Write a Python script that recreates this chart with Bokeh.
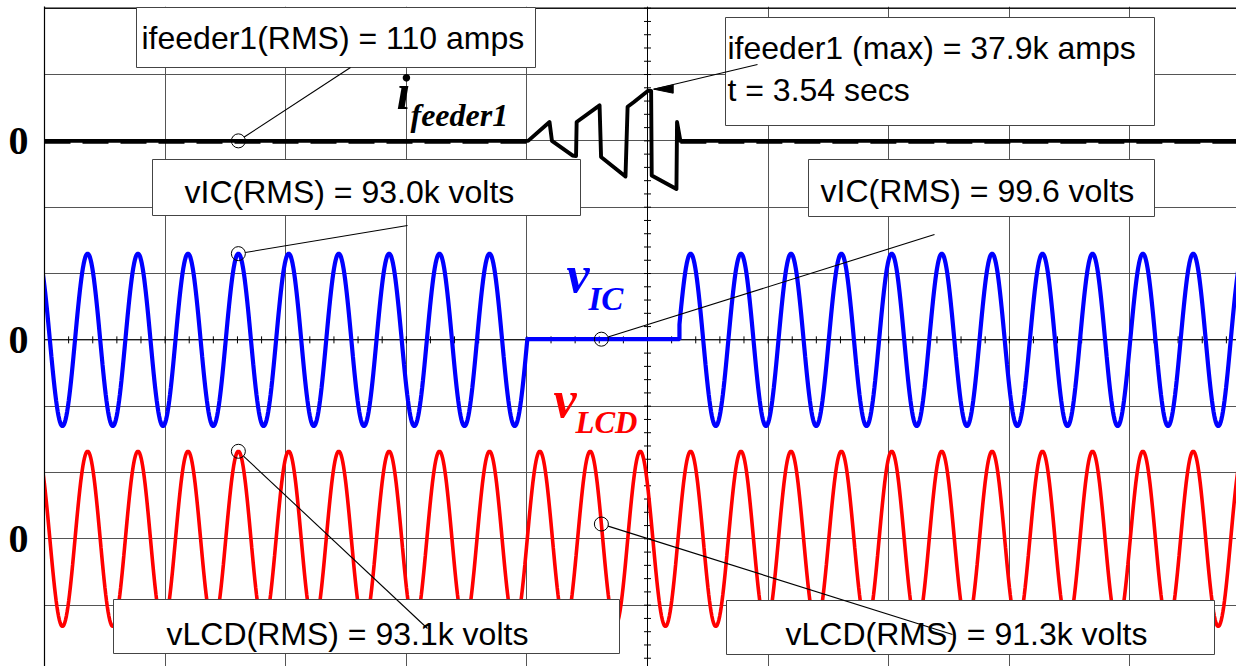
import numpy as np
from bokeh.plotting import figure
from bokeh.models import Range1d, FixedTicker, Span
from bokeh.core.properties import value
from bokeh.embed import file_html
from bokeh.resources import INLINE

# ----------------------------- data -----------------
t_left = 3.34          # s at the left edge of the screen
time_div = 0.04        # s per horizontal division

# times of the positive peaks of the 60 Hz bus voltages (vIC and vLCD in phase)
v_peak_t = [3.3376, 3.3543, 3.3710, 3.3876, 3.4043, 3.4210, 3.4376, 3.4543,
            3.4710, 3.4876, 3.5043, 3.5210, 3.5376, 3.5543, 3.5710, 3.5876,
            3.6043, 3.6210, 3.6376, 3.6543, 3.6710, 3.6876, 3.7043, 3.7210,
            3.7376]
vic_peak_kv = 130.0
vlcd_peak_kv = 132.0
vic_blank_t = [3.5002, 3.5506]   # vIC collapsed to ~0 V in this interval
vic_blank_kv = 1.0

# feeder current (kA) through the fault
ifeeder_t = [3.3400, 3.5004, 3.5075, 3.5083, 3.5151, 3.5163, 3.5165, 3.5241,
             3.5246, 3.5327, 3.5334, 3.5354, 3.5403, 3.5412, 3.5414, 3.5496,
             3.5498, 3.5509, 3.7360]
ifeeder_ka = [0.0, 0.0, 14.2, 0.0, -11.0, -11.4, 14.2, 26.8,
              -12.1, -26.8, 25.7, 29.1, 37.9, 37.6, -26.1, -36.3,
              14.2, 0.0, 0.0]

# readouts
ifeeder_rms_a = "110"
ifeeder_max_ka = "37.9"
ifeeder_max_t = "3.54"
vic_rms_before = "93.0k"
vic_rms_fault = "99.6"
vlcd_rms_before = "93.1k"
vlcd_rms_after = "91.3k"
marker_t_before = 3.4043
marker_t_fault = 3.5247

# ----------------------------- screen layout --------------------------------
IF_OFF, IF_SCALE = 8.0, 50.0      # divisions, kA per division
VIC_OFF, V_SCALE = 5.0, 100.0     # divisions, kV per division
VLCD_OFF = 2.0

W, H = 1236, 666
PX0, PY0 = 44.0, 671.0            # pixel of (t_left, division 0)
PXD, PYD = 120.6, 66.33           # pixels per division


def tx(px):
    return t_left + (px - PX0) / PXD * time_div


def dy(py):
    return (PY0 - py) / PYD


def px_of(t):
    return PX0 + (t - t_left) / time_div * PXD


def py_of(d):
    return PY0 - d * PYD


def wave(peaks, amp, n=64):
    ts, vs = [], []
    for p0, p1 in zip(peaks[:-1], peaks[1:]):
        tt = np.linspace(p0, p1, n, endpoint=False)
        ts.append(tt)
        vs.append(amp * np.cos(2 * np.pi * (tt - p0) / (p1 - p0)))
    ts.append(np.array([peaks[-1]]))
    vs.append(np.array([amp]))
    return np.concatenate(ts), np.concatenate(vs)


lcd_t, lcd_v = wave(v_peak_t, vlcd_peak_kv)
wt, wv = wave(v_peak_t, vic_peak_kv)
b0, b1 = vic_blank_t
pre, post = wt < b0, wt > b1
vic_t = np.concatenate([wt[pre], [b0, b0, b1, b1], wt[post]])
vic_v = np.concatenate([wv[pre],
                        [np.interp(b0, wt, wv), vic_blank_kv, vic_blank_kv,
                         np.interp(b1, wt, wv)],
                        wv[post]])

TOP = 6
p = figure(width=W, height=H,
           x_range=Range1d(tx(PX0), tx(W)), y_range=Range1d(dy(H), dy(TOP)),
           output_backend="svg", toolbar_location=None, x_axis_location=None,
           min_border_left=int(PX0), min_border_right=0, min_border_top=TOP,
           min_border_bottom=0, outline_line_color=None,
           background_fill_color="white", border_fill_color="white")

# graticule
p.xgrid.ticker = FixedTicker(ticks=[t_left + k * time_div for k in range(11)])
p.ygrid.ticker = FixedTicker(ticks=list(range(11)))
for g in (p.xgrid, p.ygrid):
    g.grid_line_color = "#555555"
    g.grid_line_width = 1
    g.grid_line_alpha = 1.0

t_mid = t_left + 5 * time_div
p.add_layout(Span(location=t_mid, dimension="height", line_color="black",
                  line_width=1, level="underlay"))
p.add_layout(Span(location=5, dimension="width", line_color="black",
                  line_width=1, level="underlay"))
p.add_layout(Span(location=10, dimension="width", line_color="black",
                  line_width=1.2, level="underlay"))
# minor ticks on centre axes
ty = np.arange(0, 10.01, 0.2)
p.segment(x0=[tx(px_of(t_mid) - 3.5)] * len(ty), x1=[tx(px_of(t_mid) + 3.5)] * len(ty),
          y0=ty, y1=ty, line_color="black", line_width=1)
txs = [t_left + k * time_div / 5 for k in range(51)]
p.segment(x0=txs, x1=txs, y0=[5 - 3.5 / PYD] * len(txs), y1=[5 + 3.5 / PYD] * len(txs),
          line_color="black", line_width=1)

# y axis: the "0" marks of the three traces
p.yaxis.ticker = FixedTicker(ticks=[VLCD_OFF, VIC_OFF, IF_OFF])
p.yaxis.major_label_overrides = {2: "0", 5: "0", 8: "0"}
p.yaxis.major_label_text_font = "Liberation Serif"
p.yaxis.major_label_text_font_style = "bold"
p.yaxis.major_label_text_font_size = "40px"
p.yaxis.major_label_text_color = "black"
p.yaxis.major_tick_line_color = None
p.yaxis.minor_tick_line_color = None
p.yaxis.major_label_standoff = 10
p.yaxis.axis_line_color = "black"
p.yaxis.axis_line_width = 1.2

# traces
p.line(lcd_t, VLCD_OFF + lcd_v / V_SCALE, line_color="#ff0000", line_width=3.6)
p.line(vic_t, VIC_OFF + vic_v / V_SCALE, line_color="#0000ff", line_width=4.2)
it = np.array(ifeeder_t)
iv = IF_OFF + np.array(ifeeder_ka) / IF_SCALE
p.line(it, iv, line_color="black", line_width=3.9, line_join="round")
nz = np.nonzero(np.array(ifeeder_ka))[0]
for seg in (slice(0, nz[0]), slice(nz[-1] + 1, None)):
    p.line(it[seg], iv[seg] - 0.6 / PYD, line_color="black", line_width=4.4,
           line_dash="26 12")

# trace names (y = vertical middle of the text)
serif = value("Liberation Serif")
names = [("i", 396, 91, "50px", "black"), ("feeder1", 410, 114, "32px", "black"),
         ("v", 566, 274, "52px", "#0000ff"), ("IC", 588, 298, "33px", "#0000ff"),
         ("v", 553, 399, "52px", "#ff0000"), ("LCD", 575, 422, "31px", "#ff0000")]
for s, x, y, fs, c in names:
    p.text(x=[tx(x)], y=[dy(y)], text=[s], text_font=serif, text_font_style="bold italic",
           text_font_size=fs, text_color=c, text_align="left", text_baseline="middle")

# readout boxes: (left, top, right, bottom) in pixels
boxes = [(136, 7, 535, 67), (725, 17, 1154, 125), (152, 159, 580, 215),
         (808, 159, 1154, 216), (113, 599, 619, 653), (726, 600, 1214, 654)]
p.quad(left=[tx(b[0]) for b in boxes], right=[tx(b[2]) for b in boxes],
       top=[dy(b[1]) for b in boxes], bottom=[dy(b[3]) for b in boxes],
       fill_color="white", line_color="#444444", line_width=1)

texts = [f"ifeeder1(RMS) = {ifeeder_rms_a} amps",
         f"ifeeder1 (max) = {ifeeder_max_ka}k amps",
         f"t = {ifeeder_max_t} secs",
         f"vIC(RMS) = {vic_rms_before} volts",
         f"vIC(RMS) = {vic_rms_fault} volts",
         f"vLCD(RMS) = {vlcd_rms_before} volts",
         f"vLCD(RMS) = {vlcd_rms_after} volts"]
tpos = [(141, 37), (727, 47), (727, 89), (184, 191), (820, 190), (166, 633), (785, 633)]
p.text(x=[tx(a) for a, b in tpos], y=[dy(b) for a, b in tpos], text=texts,
       text_font=value("Liberation Sans"), text_font_size="32px", text_color="black",
       text_align="left", text_baseline="middle")

# markers and leader lines
def at(t, tt, vv, off, sc):
    return off + np.interp(t, tt, vv) / sc

markers = [
    (marker_t_before, at(marker_t_before, it, np.array(ifeeder_ka), IF_OFF, IF_SCALE), (350, 67)),
    (marker_t_before, at(marker_t_before, vic_t, vic_v, VIC_OFF, V_SCALE), (407, 225)),
    (marker_t_fault, at(marker_t_fault, vic_t, vic_v, VIC_OFF, V_SCALE), (934, 234)),
    (marker_t_before, at(marker_t_before, lcd_t, lcd_v, VLCD_OFF, V_SCALE), (427, 628)),
    (marker_t_fault, at(marker_t_fault, lcd_t, lcd_v, VLCD_OFF, V_SCALE), (952, 634)),
]
R = 7.0
x0s, y0s, x1s, y1s = [], [], [], []
for t, d, (ex, ey) in markers:
    cx, cy = px_of(t), py_of(d)
    L = np.hypot(ex - cx, ey - cy)
    sx, sy = cx + R * (ex - cx) / L, cy + R * (ey - cy) / L
    x0s.append(tx(sx)); y0s.append(dy(sy)); x1s.append(tx(ex)); y1s.append(dy(ey))

# leader to the current maximum (with arrow head)
k = int(np.argmax(ifeeder_ka))
mx, my = px_of(ifeeder_t[k]), py_of(IF_OFF + ifeeder_ka[k] / IF_SCALE)
x0s.append(tx(mx + 5)); y0s.append(dy(my - 1.4)); x1s.append(tx(757)); y1s.append(dy(64))
p.segment(x0=x0s, y0=y0s, x1=x1s, y1=y1s, line_color="black", line_width=1.1)
p.patch(x=[tx(mx + 5.4), tx(mx + 24.8), tx(mx + 24.8)],
        y=[dy(my - 1.4), dy(my - 5.7), dy(my + 2.6)], fill_color="black", line_color="black")

p.scatter(x=[m[0] for m in markers], y=[m[1] for m in markers], marker="circle", size=14,
          fill_color=None, line_color="black", line_width=1)

open("out.html", "w").write(file_html(p, INLINE))
